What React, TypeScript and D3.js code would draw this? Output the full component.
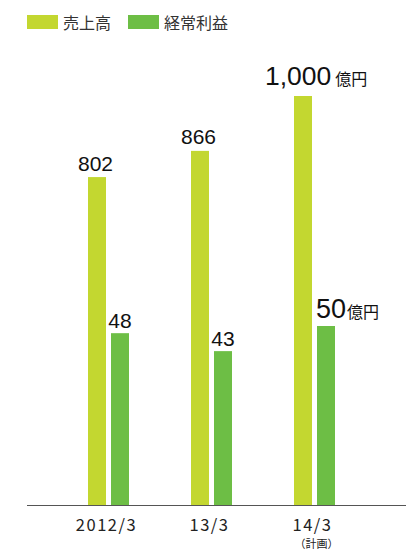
import React from "react";
import * as d3 from "d3";

const categories = ["2012/3", "13/3", "14/3"];
const subLabels = ["", "", "（計画）"];
const sales = [802, 866, 1000];
const profit = [48, 43, 50];
const salesLabels = ["802", "866", "1,000"];
const profitLabels = ["48", "43", "50"];
const seriesNames = ["売上高", "経常利益"];
const colors = ["#c3d730", "#6dbe45"];

const W = 414;
const H = 552;
const baseY = 505.5;

export default function App() {
  const x = d3.scalePoint<string>().domain(categories).range([108.5, 314.5]);
  const ySales = d3.scaleLinear().domain([0, 1000]).range([baseY, 96]);
  const yProfit = d3.scaleLinear().domain([0, 50]).range([baseY, 326]);
  const barW = 18;
  const gap = 2.5;
  const numFont = "'Liberation Sans', Arial, sans-serif";
  const jpFont = "'Noto Sans CJK JP', sans-serif";
  const last = categories.length - 1;

  return (
    <svg
      width={W}
      height={H}
      style={{ position: "absolute", left: 0, top: 0, background: "#fff" }}
    >
      {/* legend */}
      {seriesNames.map((n, i) => {
        const lx = i === 0 ? 27 : 128;
        return (
          <g key={n}>
            <rect x={lx} y={15} width={31} height={14} fill={colors[i]} />
            <text
              x={lx + 36}
              y={28.5}
              fontSize={16}
              fontFamily={jpFont}
              fill="#333"
            >
              {n}
            </text>
          </g>
        );
      })}

      {/* bars */}
      {categories.map((c, i) => {
        const cx = x(c)!;
        const sx = cx - gap - barW;
        const px = cx + gap;
        const sy = ySales(sales[i]);
        const py = yProfit(profit[i]);
        return (
          <g key={c}>
            <rect x={sx} y={sy} width={barW} height={baseY - sy} fill={colors[0]} />
            <rect x={px} y={py} width={barW} height={baseY - py} fill={colors[1]} />
            {i !== last ? (
              <>
                <text
                  x={sx + barW / 2 - 1.5}
                  y={sy - 6.5}
                  textAnchor="middle"
                  fontSize={21}
                  fontFamily={numFont}
                  fill="#111"
                >
                  {salesLabels[i]}
                </text>
                <text
                  x={px + barW / 2}
                  y={py - 5}
                  textAnchor="middle"
                  fontSize={21}
                  fontFamily={numFont}
                  fill="#111"
                >
                  {profitLabels[i]}
                </text>
              </>
            ) : (
              <>
                <text x={sx - 29} y={sy - 11} fontFamily={numFont} fill="#111">
                  <tspan fontSize={26.5}>{salesLabels[i]}</tspan>
                  <tspan fontSize={16} dx={4} fontFamily={jpFont}>
                    億円
                  </tspan>
                </text>
                <text x={px - 1} y={py - 8} fontFamily={numFont} fill="#111">
                  <tspan fontSize={27}>{profitLabels[i]}</tspan>
                  <tspan fontSize={16} dx={1} fontFamily={jpFont}>
                    億円
                  </tspan>
                </text>
              </>
            )}
          </g>
        );
      })}

      {/* axis */}
      <line x1={27} x2={406} y1={baseY} y2={baseY} stroke="#555" strokeWidth={1} />
      {categories.map((c, i) => (
        <g key={"t" + c}>
          <text
            x={x(c)! - 2}
            y={531}
            textAnchor="middle"
            fontSize={16.5}
            letterSpacing={1.5}
            fontFamily={jpFont}
            fill="#222"
          >
            {c}
          </text>
          {subLabels[i] && (
            <text
              x={x(c)! + 2}
              y={547.5}
              textAnchor="middle"
              fontSize={11}
              fontFamily={jpFont}
              fill="#222"
            >
              {subLabels[i]}
            </text>
          )}
        </g>
      ))}
    </svg>
  );
}
